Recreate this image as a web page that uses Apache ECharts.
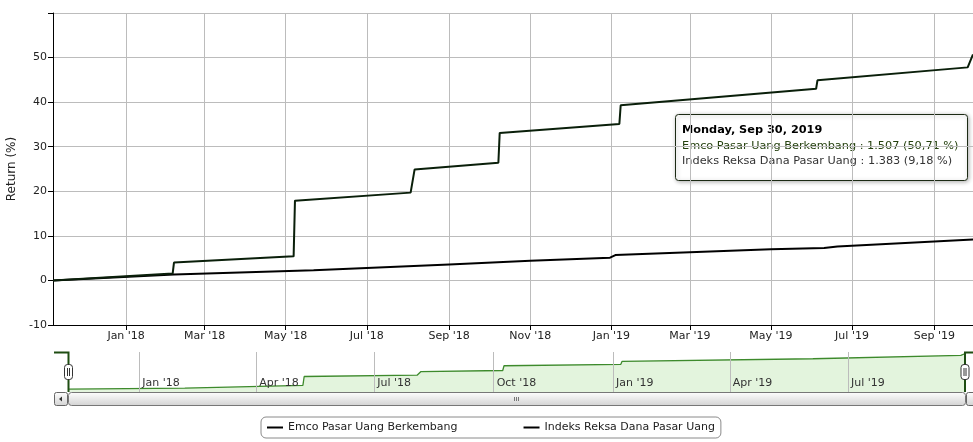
<!DOCTYPE html>
<html>
<head>
<meta charset="utf-8">
<title>Emco Pasar Uang Berkembang</title>
<script src="https://cdn.jsdelivr.net/npm/echarts@6/dist/echarts.min.js"></script>
<style>
    html, body { margin: 0; padding: 0; background: #fff; }
    #main { width: 973px; height: 442px; }
</style>
</head>
<body>
<div id="main"></div>
<script>
'use strict';

// return (%)
var emcoDates = ['2017-11-07', '2018-02-05', '2018-02-06', '2018-05-07', '2018-05-08', '2018-08-03',
    '2018-08-06', '2018-10-08', '2018-10-09', '2019-01-07', '2019-01-08', '2019-06-04',
    '2019-06-05', '2019-09-26', '2019-09-30'];
var emcoReturn = [0, 1.55, 4.0, 5.4, 17.9, 19.7, 24.9, 26.4, 33.1, 35.1, 39.3, 43.0, 44.9, 47.8, 50.71];

var indexDates = ['2017-11-07', '2018-02-06', '2018-05-22', '2018-09-01', '2018-11-01', '2018-12-31',
    '2019-01-04', '2019-03-01', '2019-05-01', '2019-06-10', '2019-06-20', '2019-09-30'];
var indexReturn = [0, 1.35, 2.3, 3.6, 4.4, 5.1, 5.7, 6.3, 7.0, 7.3, 7.6, 9.18];

var seriesNames = ['Emco Pasar Uang Berkembang', 'Indeks Reksa Dana Pasar Uang'];
var lastNav = [1507, 1383];

var mainTicks = ['2018-01-01', '2018-03-01', '2018-05-01', '2018-07-01', '2018-09-01', '2018-11-01',
    '2019-01-01', '2019-03-01', '2019-05-01', '2019-07-01', '2019-09-01'];
var navTicks = ['2018-01-01', '2018-04-01', '2018-07-01', '2018-10-01', '2019-01-01', '2019-04-01', '2019-07-01'];

var monthNames = ['Jan', 'Feb', 'Mar', 'Apr', 'May', 'Jun', 'Jul', 'Aug', 'Sep', 'Oct', 'Nov', 'Dec'];
var dayNames = ['Sunday', 'Monday', 'Tuesday', 'Wednesday', 'Thursday', 'Friday', 'Saturday'];

var font = 'DejaVu Sans';

function toTime(s) {
    return echarts.number.parseDate(s).getTime();
}

function pairs(dates, values) {
    var d = [];
    for (var i = 0; i < dates.length; i++) {
        d.push([toTime(dates[i]), values[i]]);
    }
    return d;
}

function monthLabel(v) {
    var d = new Date(v);
    return monthNames[d.getMonth()] + " '" + String(d.getFullYear()).slice(2);
}

function navText(v) {
    return String(v).replace(/\B(?=(\d{3})+(?!\d))/g, '.');
}

function tipLine(i, values) {
    var r = values[values.length - 1];
    return seriesNames[i] + ' : ' + navText(lastNav[i]) + ' (' + r.toFixed(2).replace('.', ',') + ' %)';
}

function tipTitle() {
    var d = echarts.number.parseDate(emcoDates[emcoDates.length - 1]);
    return dayNames[d.getDay()] + ', ' + monthNames[d.getMonth()] + ' ' + d.getDate() + ', ' + d.getFullYear();
}

var minTime = toTime(emcoDates[0]);
var maxTime = toTime(emcoDates[emcoDates.length - 1]);

var myChart = echarts.init(document.getElementById('main'));

var barFill = new echarts.graphic.LinearGradient(0, 0, 0, 1, [
    { offset: 0, color: '#ffffff' },
    { offset: 1, color: '#d2d2d2' }
]);

var option = {
    animation: false,
    backgroundColor: '#fff',
    textStyle: { fontFamily: font },
    grid: [
        { left: 53, right: 0, top: 13, bottom: 117, outerBoundsMode: 'none' },
        { left: 68, right: 7, top: 352, height: 40, outerBoundsMode: 'none' }
    ],
    legend: {
        data: [
            { name: seriesNames[0], itemStyle: { color: '#000' } },
            { name: seriesNames[1], itemStyle: { color: '#000' } }
        ],
        left: 261,
        top: 417,
        padding: [5, 6, 5, 6],
        borderColor: '#8a8a8a',
        borderWidth: 1,
        borderRadius: 5,
        icon: 'rect',
        itemWidth: 16,
        itemHeight: 2,
        itemGap: 66,
        textStyle: { fontFamily: font, fontSize: 11, color: '#222' }
    },
    xAxis: [{
        type: 'value',
        gridIndex: 0,
        min: minTime,
        max: maxTime,
        axisLine: { onZero: false, lineStyle: { color: '#000', width: 1 } },
        axisTick: { length: 5, lineStyle: { color: '#000' }, customValues: mainTicks.map(toTime) },
        axisLabel: {
            customValues: mainTicks.map(toTime),
            formatter: monthLabel,
            margin: 6,
            fontFamily: font,
            fontSize: 11,
            color: '#222'
        },
        splitLine: { show: true, lineStyle: { color: '#bcbcbc', width: 1 } }
    }, {
        type: 'value',
        gridIndex: 1,
        z: 5,
        min: minTime,
        max: maxTime,
        axisLine: { show: false, onZero: false },
        axisTick: { show: false, customValues: navTicks.map(toTime) },
        axisLabel: {
            customValues: navTicks.map(toTime),
            formatter: monthLabel,
            inside: true,
            margin: 3,
            align: 'left',
            verticalAlign: 'bottom',
            padding: [0, 0, 0, 3],
            fontFamily: font,
            fontSize: 11,
            color: '#333'
        },
        splitLine: { show: true, lineStyle: { color: '#bcbcbc', width: 1 } }
    }],
    yAxis: [{
        type: 'value',
        gridIndex: 0,
        min: -10,
        max: 60,
        interval: 10,
        name: 'Return (%)',
        nameLocation: 'middle',
        nameGap: 32,
        nameTextStyle: { fontFamily: font, fontSize: 12, color: '#222' },
        axisLine: { show: true, onZero: false, lineStyle: { color: '#000', width: 1 } },
        axisTick: { show: true, length: 5, lineStyle: { color: '#000' } },
        axisLabel: {
            margin: 6,
            padding: [0, 0, 8, 0],
            fontFamily: font,
            fontSize: 11,
            color: '#222',
            formatter: function(v) {
                return v === 60 ? '' : String(v);
            }
        },
        splitLine: { show: true, lineStyle: { color: '#bcbcbc', width: 1 } }
    }, {
        type: 'value',
        gridIndex: 1,
        min: -4,
        max: 52.5,
        show: false,
        splitLine: { show: false }
    }],
    series: [{
        name: seriesNames[1],
        type: 'line',
        xAxisIndex: 0,
        yAxisIndex: 0,
        showSymbol: false,
        color: '#000',
        lineStyle: { color: '#000', width: 2 },
        data: pairs(indexDates, indexReturn)
    }, {
        name: seriesNames[0],
        type: 'line',
        xAxisIndex: 0,
        yAxisIndex: 0,
        showSymbol: false,
        color: '#0a1f0a',
        lineStyle: { color: '#0a1f0a', width: 2 },
        data: pairs(emcoDates, emcoReturn)
    }, {
        name: 'navigator',
        type: 'line',
        xAxisIndex: 1,
        yAxisIndex: 1,
        showSymbol: false,
        silent: true,
        lineStyle: { color: '#3d8a2c', width: 1.3 },
        areaStyle: { color: '#e3f4dd', opacity: 1, origin: 'start' },
        data: pairs(emcoDates, emcoReturn)
    }],
    graphic: [
        // navigator outline
        { type: 'polyline', shape: { points: [[54, 352.5], [68.5, 352.5], [68.5, 392]] },
            style: { stroke: '#1e4d12', lineWidth: 2, fill: null }, z: 10 },
        { type: 'polyline', shape: { points: [[965, 392], [965, 352.5], [973, 352.5]] },
            style: { stroke: '#1e4d12', lineWidth: 2, fill: null }, z: 10 },
        // handles
        { type: 'rect', shape: { x: 64.5, y: 364.5, width: 8, height: 15, r: 3 },
            style: { fill: '#fff', stroke: '#333', lineWidth: 1 }, z: 11 },
        { type: 'polyline', shape: { points: [[67.5, 368], [67.5, 376]] }, style: { stroke: '#333', lineWidth: 1 }, z: 12 },
        { type: 'polyline', shape: { points: [[69.5, 368], [69.5, 376]] }, style: { stroke: '#333', lineWidth: 1 }, z: 12 },
        { type: 'rect', shape: { x: 961, y: 364.5, width: 8, height: 15, r: 3 },
            style: { fill: '#fff', stroke: '#333', lineWidth: 1 }, z: 11 },
        { type: 'polyline', shape: { points: [[964, 368], [964, 376]] }, style: { stroke: '#333', lineWidth: 1 }, z: 12 },
        { type: 'polyline', shape: { points: [[966, 368], [966, 376]] }, style: { stroke: '#333', lineWidth: 1 }, z: 12 },
        // scrollbar
        { type: 'rect', shape: { x: 54.5, y: 392.5, width: 13, height: 13, r: 2 },
            style: { fill: barFill, stroke: '#666', lineWidth: 1 }, z: 9 },
        { type: 'polygon', shape: { points: [[59, 399], [62, 396.5], [62, 401.5]] },
            style: { fill: '#333' }, z: 10 },
        { type: 'rect', shape: { x: 68.5, y: 392.5, width: 897, height: 13, r: 3 },
            style: { fill: barFill, stroke: '#777', lineWidth: 1 }, z: 9 },
        { type: 'polyline', shape: { points: [[514.5, 397], [514.5, 401]] }, style: { stroke: '#777', lineWidth: 1 }, z: 10 },
        { type: 'polyline', shape: { points: [[516.5, 397], [516.5, 401]] }, style: { stroke: '#777', lineWidth: 1 }, z: 10 },
        { type: 'polyline', shape: { points: [[518.5, 397], [518.5, 401]] }, style: { stroke: '#777', lineWidth: 1 }, z: 10 },
        { type: 'rect', shape: { x: 966.5, y: 392.5, width: 13, height: 13, r: 2 },
            style: { fill: barFill, stroke: '#666', lineWidth: 1 }, z: 9 },
        // tooltip
        {
            type: 'group',
            x: 675,
            y: 114,
            z: 20,
            children: [
                { type: 'rect', shape: { x: 0.5, y: 0.5, width: 292, height: 66, r: 3 },
                    style: { fill: '#fff', stroke: '#1c2a14', lineWidth: 1, shadowBlur: 4, shadowOffsetX: 1,
                        shadowOffsetY: 1, shadowColor: 'rgba(0,0,0,0.3)' } },
                { type: 'text', x: 7, y: 11,
                    style: { text: tipTitle(), font: 'bold 11.3px "DejaVu Sans"', fill: '#000' } },
                { type: 'text', x: 7, y: 27,
                    style: { text: tipLine(0, emcoReturn), font: '11.3px "DejaVu Sans"', fill: '#24400e' } },
                { type: 'text', x: 7, y: 42,
                    style: { text: tipLine(1, indexReturn), font: '11.3px "DejaVu Sans"', fill: '#333' } }
            ]
        }
    ]
};

myChart.setOption(option);
</script>
</body>
</html>
